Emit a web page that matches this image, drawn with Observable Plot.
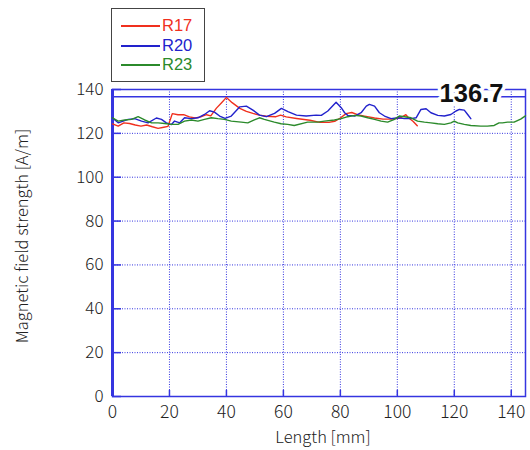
<!DOCTYPE html>
<html>
<head>
<meta charset="utf-8">
<script src="https://cdn.jsdelivr.net/npm/d3@7"></script>
<script src="https://cdn.jsdelivr.net/npm/@observablehq/plot@0.6"></script>
<style>
  html, body { margin: 0; padding: 0; background: #fff; }
  #wrap { position: relative; width: 530px; height: 450px; font-family: "Liberation Sans", sans-serif; }
  #legend { position: absolute; left: 111px; top: 8px; width: 94px; height: 74px; border: 1.5px solid #444; background: #fff; box-sizing: border-box; }
  .row { position: absolute; left: 0; height: 19px; width: 91px; }
  .sw { position: absolute; left: 9px; top: 9px; width: 39px; height: 1.6px; }
  .lab { position: absolute; left: 50px; top: 0; font-size: 16.5px; line-height: 19px; }
</style>
</head>
<body>
<div id="wrap"><div id="legend"></div></div>
<script>
// ---- data ----
const seriesNames = ["R17", "R20", "R23"];
const seriesColors = ["#f0301e", "#2222cc", "#2b8a2b"];

const r17Length = [0,2,4,6,8,10,12,14,16,18,19.5,21,23,25,27,29,31,33,34.5,36.5,38.3,40,42,44.7,47,49.3,51.6,54,57.4,59,61,64.6,69.3,72.8,76,78,80,82,84,86,88,90,92,95,98,101,103,104,105.5,107];
const r17Value  = [124.3,123.3,124.8,124.5,123.8,123.3,123.8,123,122.3,122.8,123.2,129,128.5,128.5,127.5,127,127.5,128.5,128,131.5,134,136.4,134,131.4,130,129.1,128.3,127.8,127.6,128.3,127.5,126.8,126,125,125,125.5,127,129,129.5,128.5,128,127.5,127,126.5,126.5,127,128.5,127,125.5,123.5];

const r20Length = [0,2,5.5,7.8,10.2,12.5,15.4,17.2,18.9,20.7,21.8,23.6,25.3,27.7,30,32.3,34.1,35.8,37.6,39.5,41.7,44.7,47,49.3,51.6,54,56.9,59.3,61.6,64.6,68,71.5,73.3,75.6,78.5,80.3,81.5,82.6,85,87.3,89.1,90.2,92,93.7,95.5,97.8,100.2,102.5,104.8,106.6,108.3,110.1,111.8,114.2,116.5,118.8,120.6,121.8,123.5,124.7,125.8];
const r20Value  = [127,124.8,126.4,126.7,125.6,124.8,127,126.4,124.8,124,125.6,124.8,127.1,126.7,127.1,128.6,130.3,129.7,127.9,126.8,127.9,132.1,132.4,130.6,128.3,127.6,129.1,131.4,129.9,128.3,127.9,128.3,128.2,130.2,134.2,131.7,129.4,128.2,127.9,129.4,132.4,133.2,132.4,129.4,127.9,126.7,127.1,126.7,126.7,127.1,130.9,131.2,129.4,128.2,127.9,128.6,130.2,130.9,130.6,128.6,126.7];

const r23Length = [0,2,4.3,6.7,9,11.3,13.7,16,18.3,20.7,23,25.3,27.7,30,32.3,34.7,37,39.3,41.7,45.2,47.5,49.8,51.6,53.3,56.8,59.2,61.5,63.8,68.5,72,74.4,77.9,80.3,82.6,85,87.3,89.6,92,94.3,96.6,99,100.7,102.5,104.8,107.1,109.5,111.8,114.2,116.5,118.8,120,121.2,123.5,125.8,129.3,131.6,134,135.7,136.9,138.7,141,143.3,145];
const r23Value  = [127.1,125.6,126.1,126.4,127.6,126.1,124.8,124.8,124.5,124.1,124.1,125.6,126.1,125.6,126.4,127.1,126.7,126.4,125.6,125.1,124.8,126.1,127.1,126.4,125.1,124.4,124.1,123.6,125.1,125.1,125.6,126.1,126.7,127.6,128.2,127.9,127.1,126.4,125.6,125.1,126.4,127.9,127.6,127.1,125.6,125.1,124.8,124.4,124.1,124.8,125.6,124.8,124.1,123.6,123.3,123.3,123.6,124.8,124.8,125.1,125.1,126.5,128];

const xTicks = [0,20,40,60,80,100,120,140];
const yTicks = [0,20,40,60,80,100,120,140];
const xDomain = [0,145];
const yDomain = [0,140];
const peakValue = 136.7;
const peakLabel = "136.7";
const xLabel = "Length [mm]";
const yLabel = "Magnetic field strength [A/m]";

// ---- table ----
const rows = [];
[[r17Length, r17Value], [r20Length, r20Value], [r23Length, r23Value]].forEach(([xs, ys], i) => {
  xs.forEach((x, j) => rows.push({series: seriesNames[i], x, y: ys[j]}));
});

const W = 530, H = 450, mL = 112, mR = 5, mT = 89, mB = 54;
const plotW = W - mL - mR, plotH = H - mT - mB;
const gridColor = "#3535e0";
const font = "'Noto Sans CJK JP', 'Liberation Sans', sans-serif";

const chart = Plot.plot({
  width: W, height: H,
  marginLeft: mL, marginRight: mR, marginTop: mT, marginBottom: mB,
  style: {fontFamily: font, background: "#fff", color: "#222"},
  x: {domain: xDomain},
  y: {domain: yDomain},
  color: {domain: seriesNames, range: seriesColors},
  marks: [
    Plot.gridX(xTicks, {stroke: gridColor, strokeOpacity: 1, strokeWidth: 1, strokeDasharray: "1,1.5"}),
    Plot.gridY(yTicks, {stroke: gridColor, strokeOpacity: 1, strokeWidth: 1, strokeDasharray: "1,1.5"}),
    Plot.ruleX(xTicks, {stroke: gridColor, strokeWidth: 1.5, insetTop: plotH - 6}),
    Plot.ruleY(yTicks, {stroke: gridColor, strokeWidth: 1.5, insetRight: plotW - 9}),
    Plot.frame({stroke: gridColor, strokeWidth: 1.5}),
    Plot.ruleX([xDomain[0]], {stroke: gridColor, strokeWidth: 3}),
    Plot.ruleY([peakValue], {stroke: gridColor, strokeWidth: 1.5}),
    Plot.axisX({ticks: xTicks, tickSize: 0, tickPadding: 9, fontSize: 17.5, fontWeight: 300, label: null, fill: "#222"}),
    Plot.axisY({ticks: yTicks, tickSize: 0, tickPadding: 9, fontSize: 17, fontWeight: 300, label: null, fill: "#222"}),
    Plot.line(rows, {x: "x", y: "y", z: "series", stroke: "series", strokeWidth: 1.4, curve: "linear"}),
    Plot.text([peakLabel], {text: d => d, frameAnchor: "top-right", textAnchor: "middle", lineAnchor: "middle", dx: -54, dy: 4,
      fontSize: 25.5, fontWeight: "bold", fill: "#111", stroke: "#fff", strokeWidth: 7, fontFamily: "'Liberation Sans', sans-serif"}),
    Plot.text([xLabel], {text: d => d, frameAnchor: "bottom", textAnchor: "middle", lineAnchor: "middle", dx: 4, dy: 41, fontSize: 16.5, fontWeight: 300, fill: "#222"}),
    Plot.text([yLabel], {text: d => d, frameAnchor: "left", textAnchor: "middle", lineAnchor: "middle", rotate: -90, dx: -90, dy: -7, fontSize: 16.5, fontWeight: 300, fill: "#222"})
  ]
});
document.getElementById("wrap").appendChild(chart);

// legend
const lg = document.getElementById("legend");
seriesNames.forEach((name, i) => {
  const row = document.createElement("div");
  row.className = "row";
  row.style.top = Math.round(7 + i * 19.5) + "px";
  row.innerHTML = `<div class="sw" style="background:${seriesColors[i]}"></div><div class="lab" style="color:${seriesColors[i]}">${name}</div>`;
  lg.appendChild(row);
});
</script>
</body>
</html>
